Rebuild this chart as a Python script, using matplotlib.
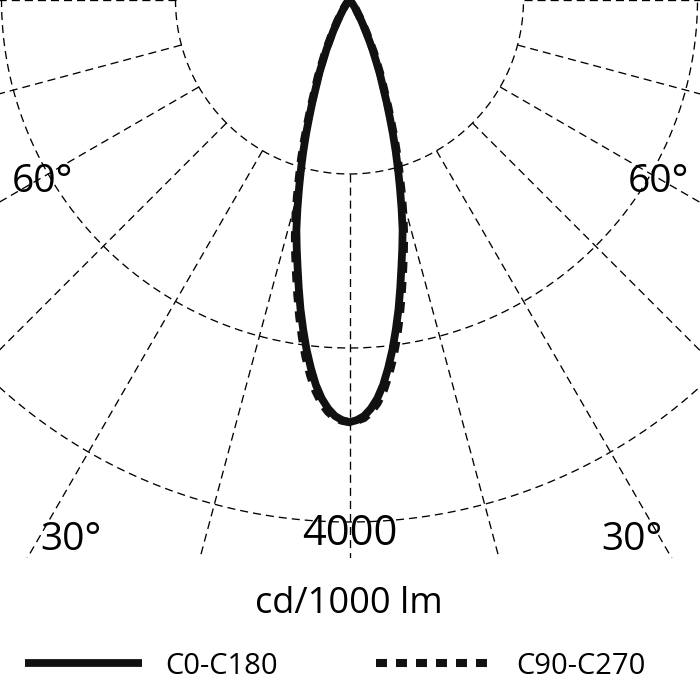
import numpy as np
import matplotlib
matplotlib.use('Agg')
import matplotlib.pyplot as plt

# Luminous intensity distribution (cd/1000 lm)
angles_deg = [0, 1, 2, 3, 4, 5, 6, 7, 8, 9, 10, 11, 12, 13, 14, 15, 16, 17,
              18, 19, 20, 22.5, 25, 27.5, 30, 35, 40, 45, 50, 60, 70, 80, 90]
c0_c180 = [3235, 3220, 3190, 3135, 3060, 2960, 2835, 2700, 2550, 2400, 2240,
           2085, 1945, 1810, 1650, 1495, 1350, 1210, 1075, 945, 830, 600,
           415, 270, 175, 75, 30, 10, 0, 0, 0, 0, 0]
c90_c270 = [3235, 3225, 3205, 3160, 3095, 3005, 2890, 2760, 2615, 2460, 2300,
            2145, 2000, 1860, 1710, 1555, 1400, 1265, 1120, 980, 865, 630,
            445, 290, 190, 85, 35, 8, 0, 0, 0, 0, 0]
series_names = ['C0-C180', 'C90-C270']

# polar grid
grid_circles = [4000 / 3, 8000 / 3, 4000]
grid_angles = list(range(-90, 91, 15))
scale_label = '4000'
unit_label = 'cd/1000 lm'
angle_labels = ['60°', '60°', '30°', '30°']

plt.rcParams['font.family'] = ['Open Sans', 'DejaVu Sans']
plt.rcParams['lines.scale_dashes'] = False

W, H = 700, 700
fig = plt.figure(figsize=(W / 100, H / 100), dpi=100)

# plot area: top 558 px of the figure, 522 px for 4000 cd
plot_h = 558
k = 522 / 4000.0
ax = fig.add_axes([0, 1 - plot_h / H, 1, plot_h / H])
ax.set_xlim(-349.5 / k, 350.5 / k)
ax.set_ylim(-plot_h / k, 0)
ax.axis('off')

grid_style = dict(color='black', linewidth=0.95, dashes=(5.8, 3.6))

phi = np.linspace(0, 2 * np.pi, 721)
for r in grid_circles:
    ax.plot(r * np.cos(phi), r * np.sin(phi), **grid_style)

for a in grid_angles:
    t = np.radians(a)
    rr = np.array([grid_circles[0], 9000])
    ax.plot(rr * np.sin(t), -rr * np.cos(t), **grid_style)


def to_xy(values):
    th = np.radians(np.array(angles_deg, dtype=float))
    v = np.array(values, dtype=float)
    th_full = np.concatenate([-th[::-1], th[1:]])
    v_full = np.concatenate([v[::-1], v[1:]])
    return v_full * np.sin(th_full), -v_full * np.cos(th_full)


x1, y1 = to_xy(c0_c180)
x2, y2 = to_xy(c90_c270)
line_dash, = ax.plot(x2, y2, color='#111111', linewidth=5.8,
                     dashes=(7.9, 6.5), dash_capstyle='butt',
                     dash_joinstyle='miter', zorder=3)
line_solid, = ax.plot(x1, y1, color='#111111', linewidth=5.6,
                      solid_joinstyle='round', solid_capstyle='butt',
                      zorder=4)


def px(x, y):
    return x / W, 1 - y / H


label_pos = [(42, 192), (658, 192), (71, 550), (632, 550)]
for txt, (lx, ly) in zip(angle_labels, label_pos):
    fig.text(*px(lx, ly), txt, fontsize=28, ha='center', va='baseline')

fig.text(*px(350, 545), scale_label, fontsize=30, ha='center',
         va='baseline')
fig.text(*px(349, 613), unit_label, fontsize=26, ha='center',
         va='baseline')

fig.legend(handles=[line_solid, line_dash], labels=series_names,
           loc='center left', bbox_to_anchor=px(25, 666), ncol=2,
           frameon=False, fontsize=21, handlelength=4.0,
           handletextpad=0.82, columnspacing=3.35, borderpad=0,
           borderaxespad=0)

fig.savefig('out.png', dpi=100)
